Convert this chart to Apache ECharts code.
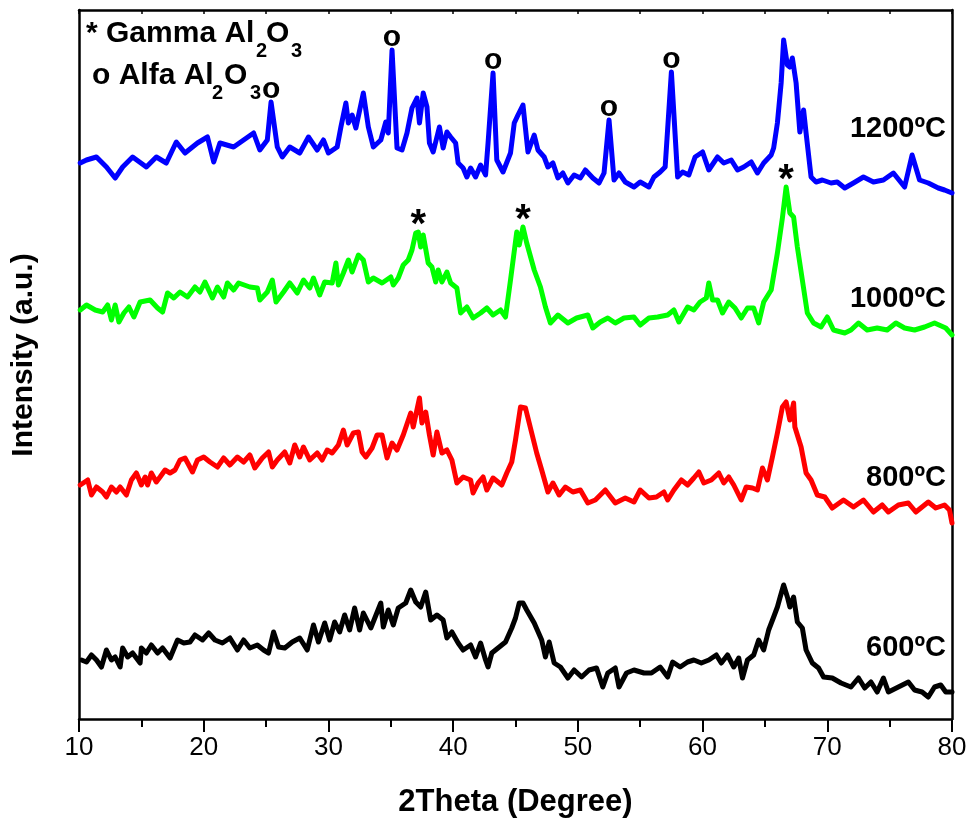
<!DOCTYPE html>
<html>
<head>
<meta charset="utf-8">
<script src="https://cdn.jsdelivr.net/npm/echarts@6/dist/echarts.min.js"></script>
<style>
  html, body { margin: 0; padding: 0; background: #ffffff; }
  #chart { width: 966px; height: 820px; }
</style>
</head>
<body>
<div id="chart"></div>
<script>
// XRD patterns of alumina calcined at different temperatures, [2θ, intensity (a.u., stacked)]
const xrd1200 = [
  [10.1,556],[10.6,559],[11.4,562],[12.2,552],[12.9,541],[13.5,552],[14.3,562],[15.4,552],[16.2,562],[17.0,556],
  [17.8,577],[18.5,566],[19.5,576],[20.3,582],[20.8,557],[21.3,576],[22.4,572],[23.2,579],[24.0,586],[24.5,569],
  [25.1,579],[25.4,617],[25.9,572],[26.3,562],[26.9,572],[27.7,566],[28.4,582],[29.1,569],[29.6,579],[30.0,566],
  [30.7,572],[31.0,592],[31.4,616],[31.6,596],[31.9,604],[32.2,591],[32.8,626],[33.2,592],[33.6,572],[34.2,579],
  [34.6,597],[34.8,586],[35.1,669],[35.5,571],[35.9,569],[36.3,586],[36.7,611],[37.1,621],[37.3,596],[37.6,626],
  [37.9,612],[38.1,576],[38.4,567],[38.9,592],[39.2,571],[39.5,587],[39.8,582],[40.2,576],[40.4,556],[40.8,551],
  [41.1,542],[41.4,551],[41.8,542],[42.2,554],[42.6,544],[42.8,576],[43.2,646],[43.5,559],[44.0,547],[44.6,566],
  [44.9,596],[45.2,604],[45.6,614],[46.0,567],[46.5,584],[46.8,569],[47.3,562],[47.6,552],[48.0,556],[48.4,541],
  [48.8,546],[49.2,536],[49.7,544],[50.2,541],[50.6,549],[51.2,541],[51.7,536],[52.1,546],[52.5,599],[52.9,539],
  [53.3,546],[53.8,537],[54.5,532],[55.0,537],[55.7,532],[56.1,542],[56.6,547],[57.0,552],[57.5,647],[58.0,542],
  [58.4,547],[58.9,544],[59.4,562],[60.0,567],[60.5,549],[61.2,562],[61.7,556],[62.3,559],[62.8,549],[63.3,552],
  [63.9,557],[64.4,546],[64.9,556],[65.5,564],[65.7,571],[66.0,596],[66.3,636],[66.5,679],[66.8,654],[67.0,652],
  [67.2,661],[67.5,636],[67.8,587],[68.1,609],[68.3,586],[68.7,542],[69.1,537],[69.6,539],[70.3,536],[70.8,537],
  [71.4,531],[72.1,536],[72.9,542],[73.7,537],[74.5,539],[75.3,546],[76.2,532],[76.8,564],[77.4,539],[78.1,536],
  [78.9,531],[79.4,529],[80.0,526]
];

const xrd1000 = [
  [10.1,409],[10.6,414],[11.3,409],[11.9,407],[12.3,414],[12.6,399],[12.9,414],[13.2,397],[13.6,406],[14.0,412],
  [14.4,402],[14.9,417],[15.7,419],[16.3,411],[16.7,407],[17.1,426],[17.6,421],[18.1,427],[18.7,422],[19.3,432],
  [19.7,427],[20.1,437],[20.7,421],[21.1,432],[21.6,422],[21.9,436],[22.4,429],[22.8,436],[23.7,432],[24.3,431],
  [24.5,419],[25.1,427],[25.5,439],[25.8,417],[26.4,427],[26.9,436],[27.5,426],[28.0,439],[28.5,431],[28.8,441],
  [29.3,424],[29.7,437],[30.3,436],[30.6,456],[30.8,434],[31.2,446],[31.6,459],[31.9,447],[32.4,464],[32.8,459],
  [33.2,437],[33.6,441],[34.3,436],[35.0,442],[35.2,434],[35.6,441],[36.0,454],[36.4,459],[36.7,469],[37.0,486],
  [37.2,487],[37.4,472],[37.6,484],[38.0,456],[38.3,452],[38.6,437],[38.8,449],[39.1,437],[39.5,447],[39.8,436],
  [40.3,431],[40.6,406],[41.1,412],[41.6,401],[42.2,406],[42.7,411],[43.2,404],[43.8,409],[44.2,402],[44.6,439],
  [45.1,487],[45.3,474],[45.6,492],[45.9,476],[46.5,449],[47.0,432],[47.4,412],[47.8,396],[48.4,404],[49.2,396],
  [49.9,401],[50.8,404],[51.2,391],[51.8,397],[52.4,401],[53.0,396],[53.7,401],[54.5,402],[55.0,394],[55.7,401],
  [56.4,402],[57.2,404],[57.7,409],[58.1,397],[58.8,412],[59.3,409],[59.8,417],[60.3,421],[60.5,436],[60.8,419],
  [61.2,419],[61.6,406],[62.1,417],[62.6,411],[63.1,401],[63.6,411],[64.1,411],[64.5,396],[64.9,417],[65.5,429],
  [66.0,466],[66.4,501],[66.7,532],[67.0,506],[67.3,502],[67.6,472],[68.0,439],[68.4,406],[68.9,396],[69.5,392],
  [70.0,402],[70.5,389],[71.4,386],[71.9,389],[72.5,396],[73.2,389],[74.0,391],[74.8,389],[75.5,396],[76.2,391],
  [77.0,389],[77.8,392],[78.6,396],[79.5,391],[80.0,384]
];

const xrd800 = [
  [10.1,234],[10.7,239],[11.0,224],[11.4,232],[11.9,227],[12.2,222],[12.6,232],[13.0,227],[13.3,232],[13.8,224],
  [14.2,239],[14.6,246],[15.0,234],[15.3,242],[15.5,234],[15.8,246],[16.2,237],[16.5,242],[16.9,249],[17.3,246],
  [17.7,249],[18.1,259],[18.5,261],[19.1,247],[19.5,259],[20.0,262],[20.5,257],[21.1,252],[21.6,261],[22.1,254],
  [22.7,262],[23.2,257],[23.7,264],[24.1,251],[24.7,261],[25.2,267],[25.5,252],[25.9,259],[26.5,267],[26.9,256],
  [27.3,274],[27.7,262],[28.0,272],[28.5,259],[29.1,266],[29.5,259],[29.9,269],[30.3,266],[30.8,274],[31.2,289],
  [31.5,274],[32.0,286],[32.4,287],[32.7,267],[33.0,262],[33.5,271],[33.9,284],[34.3,284],[34.7,261],[35.1,276],
  [35.5,269],[36.0,284],[36.6,306],[36.8,292],[37.3,321],[37.5,296],[37.8,307],[38.1,284],[38.4,264],[38.7,287],
  [39.1,266],[39.5,269],[39.9,259],[40.3,236],[40.8,242],[41.4,239],[41.6,226],[42.0,236],[42.4,242],[42.7,229],
  [43.2,241],[43.9,234],[44.3,246],[44.7,257],[45.0,279],[45.4,312],[45.8,311],[46.3,286],[46.7,266],[47.1,249],
  [47.6,227],[48.0,236],[48.5,224],[49.0,232],[49.6,227],[50.2,229],[50.8,216],[51.4,219],[52.2,229],[53.0,216],
  [53.8,221],[54.5,217],[55.0,229],[55.7,221],[56.3,222],[56.9,227],[57.2,219],[57.7,229],[58.3,239],[58.8,234],
  [59.3,241],[59.7,247],[60.1,236],[60.7,239],[61.3,246],[61.7,236],[62.1,242],[62.5,234],[63.1,219],[63.5,232],
  [64.0,231],[64.4,229],[64.8,251],[65.2,239],[65.6,262],[66.0,286],[66.4,312],[66.7,317],[67.0,299],[67.3,316],
  [67.4,292],[67.9,272],[68.3,246],[68.7,239],[69.2,224],[69.8,222],[70.4,211],[71.3,219],[72.1,212],[72.9,219],
  [73.7,207],[74.4,214],[74.9,207],[75.7,214],[76.5,216],[77.1,207],[78.1,217],[78.7,211],[79.4,214],[79.8,209],
  [80.0,196]
];

const xrd600 = [
  [10.2,59],[10.6,57],[11.0,64],[11.4,59],[11.8,52],[12.2,69],[12.6,59],[12.9,62],[13.3,52],[13.5,71],
  [13.9,62],[14.3,66],[14.9,56],[15.0,71],[15.4,66],[15.8,74],[16.3,66],[16.7,71],[17.3,61],[17.9,79],
  [18.4,76],[18.9,77],[19.3,84],[19.9,79],[20.4,86],[20.9,79],[21.5,76],[22.1,81],[22.7,69],[23.2,79],
  [23.7,71],[24.3,74],[24.8,69],[25.2,66],[25.6,87],[26.0,72],[26.5,71],[27.1,77],[27.7,81],[28.3,69],
  [28.8,94],[29.2,77],[29.7,96],[30.1,79],[30.5,97],[30.9,87],[31.3,104],[31.7,89],[32.1,111],[32.5,89],
  [32.8,106],[33.4,91],[34.2,116],[34.4,92],[34.8,109],[35.2,94],[35.6,111],[36.2,116],[36.6,129],[37.0,117],
  [37.4,112],[37.8,127],[38.2,99],[38.7,104],[39.2,99],[39.5,81],[39.9,87],[40.4,76],[40.8,69],[41.4,74],
  [41.8,62],[42.2,76],[42.6,59],[42.8,52],[43.1,66],[43.6,71],[44.2,77],[44.7,91],[45.0,101],[45.3,116],
  [45.6,116],[45.9,109],[46.5,96],[47.1,79],[47.4,62],[47.7,77],[48.1,56],[48.6,52],[49.2,41],[49.7,49],
  [50.3,42],[50.9,49],[51.5,51],[52.0,32],[52.4,46],[53.0,51],[53.3,32],[53.9,46],[54.5,49],[55.3,46],
  [55.9,46],[56.6,52],[57.2,42],[57.6,57],[58.2,52],[58.8,57],[59.3,59],[59.9,56],[60.5,59],[61.1,64],
  [61.5,56],[62.0,64],[62.5,52],[62.9,61],[63.2,41],[63.6,59],[64.1,64],[64.5,79],[64.9,69],[65.3,89],
  [65.7,102],[66.0,112],[66.2,121],[66.5,134],[66.8,122],[67.0,112],[67.3,122],[67.6,97],[68.0,91],[68.3,69],
  [68.8,56],[69.3,51],[69.7,42],[70.4,41],[71.1,36],[71.9,32],[72.5,41],[73.0,31],[73.5,37],[74.0,27],
  [74.5,41],[74.9,27],[75.7,32],[76.5,37],[77.0,29],[77.6,27],[78.1,22],[78.6,32],[79.1,34],[79.5,27],
  [80.0,27]
];

// Reflections marked on the patterns
const alphaPeaks = [25.4, 35.1, 43.2, 52.5, 57.5];   // α-Al2O3 (o) on the 1200 ºC pattern
const gammaPeaks = [37.2, 45.6, 66.7];               // γ-Al2O3 (*) on the 1000 ºC pattern

const seriesNames = ['600ºC', '800ºC', '1000ºC', '1200ºC'];
const seriesColors = ['#000000', '#ff0000', '#00ff00', '#0000ff'];
const xTickLabels = [10, 20, 30, 40, 50, 60, 70, 80];

const FONT = "'Liberation Sans', Arial, Helvetica, sans-serif";

// nearest measured point to a given 2θ
function pointAt(data, theta) {
  return data.reduce((best, p) => Math.abs(p[0] - theta) < Math.abs(best[0] - theta) ? p : best);
}

function peakMarks(data, peaks, text, size, offsetY) {
  return {
    symbol: 'rect',
    symbolSize: 1,
    itemStyle: { color: 'rgba(0,0,0,0)' },
    label: {
      show: true,
      position: 'inside',
      offset: [0, offsetY],
      formatter: text,
      color: '#000',
      fontFamily: FONT,
      fontWeight: 'bold',
      fontSize: size
    },
    data: peaks.map(t => ({ coord: pointAt(data, t) }))
  };
}

const allData = [xrd600, xrd800, xrd1000, xrd1200];

const chart = echarts.init(document.getElementById('chart'), null, { renderer: 'canvas' });

const series = allData.map((d, i) => ({
  name: seriesNames[i],
  type: 'line',
  data: d,
  showSymbol: false,
  symbol: 'none',
  smooth: false,
  lineStyle: { color: seriesColors[i], width: 5, join: 'round', cap: 'round' },
  itemStyle: { color: seriesColors[i] },
  silent: true,
  z: 2 + i
}));
series[3].markPoint = peakMarks(xrd1200, alphaPeaks, 'o', 30, -12);
series[2].markPoint = peakMarks(xrd1000, gammaPeaks, '*', 40, -6);

// sample labels at the right side, vertical centre in px
const labelY = [648, 478, 299, 129];

const graphics = [];
seriesNames.forEach((name, i) => {
  graphics.push({
    type: 'text', right: 20, top: labelY[i] - 15,
    style: { text: name, fill: '#000', font: 'bold 29px ' + FONT }
  });
});

// phase legend with subscripts
function legendText(x, y, text, size) {
  return { type: 'text', x: x, y: y, style: { text: text, fill: '#000', font: 'bold ' + size + 'px ' + FONT, verticalAlign: 'middle', align: 'left' } };
}
graphics.push(
  legendText(86, 34, '* Gamma Al', 30),
  legendText(256, 51, '2', 20),
  legendText(266, 34, 'O', 30),
  legendText(291, 51, '3', 20),
  legendText(92, 76, 'o Alfa Al', 30),
  legendText(212, 93, '2', 20),
  legendText(224, 76, 'O', 30),
  legendText(250, 93, '3', 20)
);

chart.setOption({
  animation: false,
  backgroundColor: '#ffffff',
  grid: { left: 79, right: 14, top: 10, bottom: 101, containLabel: false, outerBoundsMode: 'none' },
  xAxis: [
    {
      type: 'value', min: 10, max: 80, interval: 10, position: 'bottom',
      name: '2Theta (Degree)', nameLocation: 'middle', nameGap: 68,
      nameTextStyle: { fontFamily: FONT, fontWeight: 'bold', fontSize: 31, color: '#000' },
      axisLine: { show: true, onZero: false, lineStyle: { color: '#000', width: 2.5 } },
      axisTick: { show: true, inside: false, length: 13, lineStyle: { color: '#000', width: 2 } },
      minorTick: { show: true, splitNumber: 2, length: 8, lineStyle: { color: '#000', width: 2 } },
      axisLabel: { show: true, margin: 16, fontFamily: FONT, fontSize: 26, color: '#000',
                   formatter: v => xTickLabels.includes(v) ? String(v) : '' },
      splitLine: { show: false }
    },
    {
      type: 'value', min: 10, max: 80, interval: 5, position: 'top',
      axisLine: { show: true, onZero: false, lineStyle: { color: '#000', width: 2.5 } },
      axisTick: { show: true, inside: true, length: 4, lineStyle: { color: '#000', width: 1.5 } },
      axisLabel: { show: false },
      splitLine: { show: false }
    }
  ],
  yAxis: [
    {
      type: 'value', min: 0, max: 709, position: 'left',
      name: 'Intensity (a.u.)', nameLocation: 'middle', nameGap: 40, nameRotate: 90,
      nameTextStyle: { fontFamily: FONT, fontWeight: 'bold', fontSize: 30, color: '#000', padding: [0, 0, 0, 19] },
      axisLine: { show: true, onZero: false, lineStyle: { color: '#000', width: 2.5 } },
      axisTick: { show: false },
      axisLabel: { show: false },
      splitLine: { show: false }
    },
    {
      type: 'value', min: 0, max: 709, position: 'right',
      axisLine: { show: true, onZero: false, lineStyle: { color: '#000', width: 2.5 } },
      axisTick: { show: false },
      axisLabel: { show: false },
      splitLine: { show: false }
    }
  ],
  series: series,
  graphic: graphics
});
</script>
</body>
</html>
